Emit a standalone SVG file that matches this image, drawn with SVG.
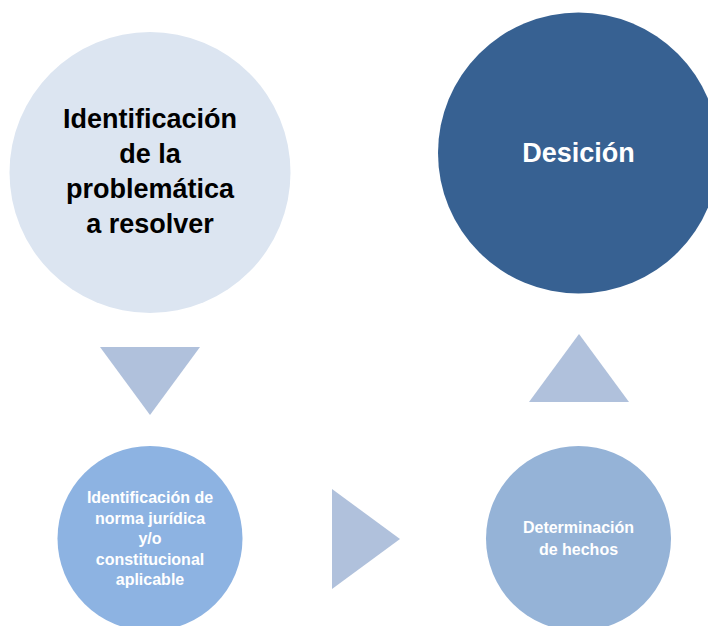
<svg xmlns="http://www.w3.org/2000/svg" width="708" height="626" viewBox="0 0 708 626">
<style>
.t{font-family:"Liberation Sans",Arial,sans-serif;font-weight:bold;text-anchor:middle}
.big{font-size:27px}
.small{font-size:16px;fill:#FFFFFF}
.arrow{fill:#B0C1DC}
</style>
<rect width="708" height="626" fill="#FFFFFF"/>
<g id="connectors">
<polygon class="arrow" points="100,347 200,347 150,415"/>
<polygon class="arrow" points="332,489 332,589 400,539"/>
<polygon class="arrow" points="529,402 629,402 579,334"/>
</g>
<g id="node-problematica">
<circle cx="150" cy="172.5" r="140.5" fill="#DCE5F1"/>
<text class="t big" fill="#000000"><tspan x="150" y="128">Identificación</tspan><tspan x="150" y="163">de la</tspan><tspan x="150" y="198">problemática</tspan><tspan x="150" y="233">a resolver</tspan></text>
</g>
<g id="node-desicion">
<circle cx="578.5" cy="153" r="140.5" fill="#376192"/>
<text class="t big" fill="#FFFFFF" x="578.5" y="162">Desición</text>
</g>
<g id="node-norma">
<circle cx="150" cy="538.5" r="92.5" fill="#8DB3E2"/>
<text class="t small"><tspan x="150" y="503">Identificación de</tspan><tspan x="150" y="523.5">norma jurídica</tspan><tspan x="150" y="544">y/o</tspan><tspan x="150" y="564.5">constitucional</tspan><tspan x="150" y="585">aplicable</tspan></text>
</g>
<g id="node-hechos">
<circle cx="578.5" cy="538.5" r="92.5" fill="#95B3D7"/>
<text class="t small"><tspan x="578.5" y="533">Determinación</tspan><tspan x="578.5" y="555">de hechos</tspan></text>
</g>
</svg>
